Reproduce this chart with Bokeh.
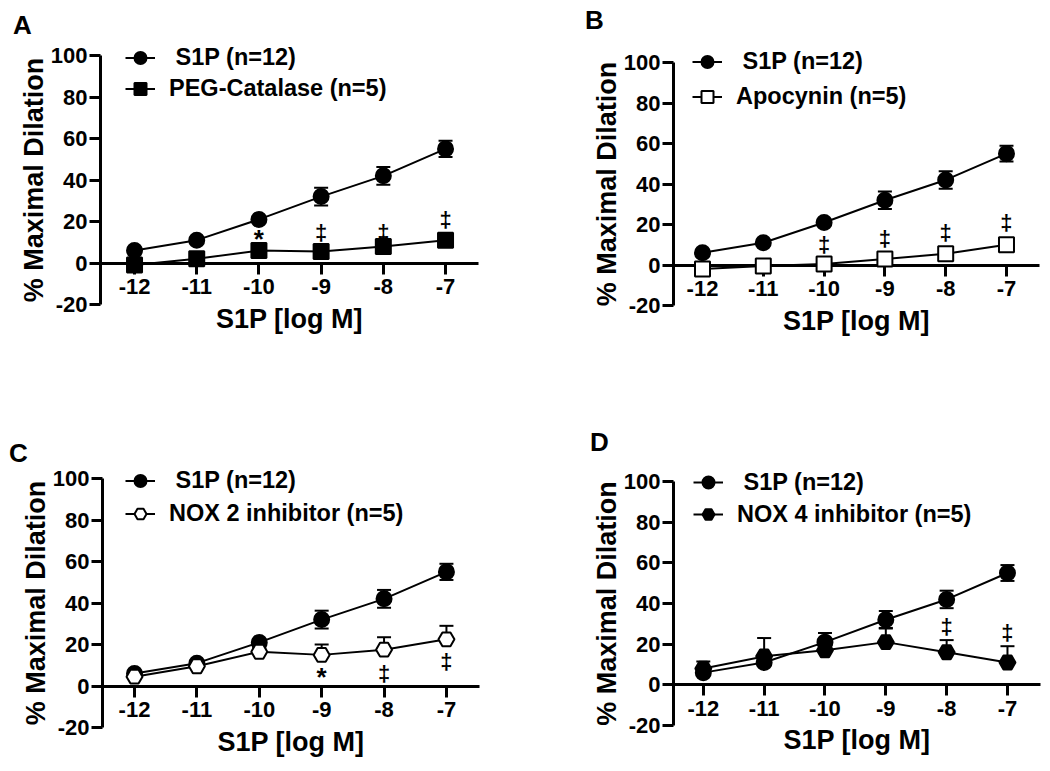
from bokeh.plotting import figure
from bokeh.models import (Range1d, FixedTicker, Whisker, TeeHead, ColumnDataSource,
                          Legend, LegendItem, Label)
from bokeh.layouts import column, row
from bokeh.embed import file_html
from bokeh.resources import INLINE
from bokeh.core.properties import value

# ---------------- data ----------------
log_conc = [-12, -11, -10, -9, -8, -7]
x_tick_labels = ["-12", "-11", "-10", "-9", "-8", "-7"]
y_ticks = [-20, 0, 20, 40, 60, 80, 100]
y_tick_labels = ["-20", "0", "20", "40", "60", "80", "100"]

s1p_label = " S1P (n=12)"
s1p_mean = [6, 11, 21, 32, 42, 55]
s1p_sem = [1.2, 1.2, 1.5, 4.3, 4.3, 3.9]

peg_label = "PEG-Catalase (n=5)"
peg_mean = [-1, 2, 6, 5.5, 8, 11]
peg_sem = [1.5, 3, 2, 2, 2, 2]

apo_label = "Apocynin (n=5)"
apo_mean = [-2, -0.5, 0.5, 3, 5.5, 10]
apo_sem = [1.5, 2, 3, 2, 2, 2.5]

nox2_label = "NOX 2 inhibitor (n=5)"
nox2_mean = [4.5, 9.5, 16.5, 15, 17.5, 22.5]
nox2_sem = [2, 2, 2, 5, 6, 6.5]

nox4_label = "NOX 4 inhibitor (n=5)"
nox4_mean = [8, 14, 17, 21, 16, 11]
nox4_sem = [3.5, 9, 8.5, 7, 6, 8]

# significance marks (x, y)
a_star_x, a_star_y = [-10], [13]
a_dag_x, a_dag_y = [-9, -8, -7], [14.5, 14.5, 21]
b_star_x, b_star_y = [], []
b_dag_x, b_dag_y = [-10, -9, -8, -7], [10, 13, 16, 21]
c_star_x, c_star_y = [-9], [6]
c_dag_x, c_dag_y = [-8, -7], [6, 11.7]
d_star_x, d_star_y = [], []
d_dag_x, d_dag_y = [-8, -7], [28.5, 25.5]

Y_MIN, Y_MAX = -20, 100
FONT = "Liberation Sans"


def style_axis(ax):
    ax.axis_line_width = 3
    ax.axis_line_color = "black"
    ax.major_tick_line_width = 3
    ax.major_tick_line_color = "black"
    ax.major_tick_out = 11
    ax.major_tick_in = 0
    ax.minor_tick_line_color = None
    ax.major_label_text_font = FONT
    ax.major_label_text_font_style = "bold"
    ax.major_label_text_font_size = "22px"
    ax.major_label_text_color = "black"
    ax.axis_label_text_font = FONT
    ax.axis_label_text_font_style = "bold"
    ax.axis_label_text_font_size = "27px"
    ax.axis_label_text_color = "black"


def add_series(p, mean, sem, marker, fill, size, both_heads):
    upper = [m + e for m, e in zip(mean, sem)]
    lower = [m - e for m, e in zip(mean, sem)] if both_heads else list(mean)
    src = ColumnDataSource(dict(x=log_conc, y=mean, upper=upper, lower=lower))
    w = Whisker(source=src, base="x", upper="upper", lower="lower", dimension="height",
                line_width=2, line_color="black",
                upper_head=TeeHead(size=14, line_width=2, line_color="black"),
                lower_head=TeeHead(size=14, line_width=2, line_color="black") if both_heads else None,
                level="annotation")
    p.add_layout(w)
    rl = p.line("x", "y", source=src, line_width=2, line_color="black", level="overlay")
    rs = p.scatter("x", "y", source=src, marker=marker, size=size, fill_color=fill,
                   line_color="black", line_width=2, level="overlay")
    return rl, rs


def make_panel(letter, w, h, left, fw, top, fh, xr, treat_mean, treat_sem, treat_label,
               marker, fill, msize, legend_xy, pitch, letter_xy,
               star_x, star_y, dag_x, dag_y, treat_both):
    # axes box (left, fw, top, fh) in figure pixels; the frame covers the whole figure
    ppx = fw / (xr[1] - xr[0])
    ppy = fh / (Y_MAX - Y_MIN)
    x_range = Range1d(xr[0] - left / ppx, xr[1] + (w - left - fw) / ppx)
    y_range = Range1d(Y_MIN - (h - top - fh) / ppy, Y_MAX + top / ppy)
    p = figure(width=w, height=h, x_range=x_range, y_range=y_range,
               output_backend="svg", toolbar_location=None,
               min_border_left=0, min_border_right=0,
               min_border_top=0, min_border_bottom=0)
    p.title.visible = False
    p.grid.visible = False
    p.outline_line_color = None
    p.background_fill_color = "white"
    p.border_fill_color = "white"

    xa = p.xaxis[0]
    ya = p.yaxis[0]
    style_axis(xa)
    style_axis(ya)
    xa.fixed_location = 0
    xa.bounds = (xr[0], xr[1])
    xa.ticker = FixedTicker(ticks=log_conc)
    xa.major_label_overrides = {t: s for t, s in zip(log_conc, x_tick_labels)}
    xa.major_label_standoff = 5
    xa.axis_label = "S1P [log M]"
    xa.axis_label_standoff = 6
    ya.fixed_location = xr[0]
    ya.bounds = (Y_MIN, Y_MAX)
    ya.ticker = FixedTicker(ticks=y_ticks)
    ya.major_label_overrides = {t: s for t, s in zip(y_ticks, y_tick_labels)}
    ya.major_label_standoff = 2
    ya.axis_label = "% Maximal Dilation"
    ya.axis_label_standoff = -1

    r1 = add_series(p, s1p_mean, s1p_sem, "circle", "black", 15, True)
    r2 = add_series(p, treat_mean, treat_sem, marker, fill, msize, treat_both)

    if dag_x:
        p.text(dag_x, dag_y, text=["‡"] * len(dag_x), text_font=value(FONT),
               text_font_style="bold", text_font_size="22px", text_align="center",
               text_baseline="middle", text_color="black", level="overlay")
    if star_x:
        p.text(star_x, star_y, text=["*"] * len(star_x), text_font=value(FONT),
               text_font_style="bold", text_font_size="26px", text_align="center",
               text_baseline="middle", y_offset=3, text_color="black", level="overlay")

    legend = Legend(items=[LegendItem(label=s1p_label, renderers=list(r1)),
                           LegendItem(label=treat_label, renderers=list(r2))],
                    location=legend_xy, orientation="vertical",
                    glyph_width=30, glyph_height=pitch, label_height=pitch,
                    spacing=0, padding=0, margin=0, label_standoff=14,
                    border_line_color=None, background_fill_alpha=0,
                    label_text_font=FONT, label_text_font_style="bold",
                    label_text_font_size="23.5px", label_text_color="black")
    p.add_layout(legend)

    p.add_layout(Label(x=letter_xy[0], y=letter_xy[1], x_units="screen", y_units="screen",
                       text=letter, text_font=FONT, text_font_style="bold",
                       text_font_size="26px", text_align="center",
                       text_baseline="alphabetic", text_color="black"))
    return p


pA = make_panel("A", 533, 388, 100, 378, 55, 249, (-12.547, -6.47),
                peg_mean, peg_sem, peg_label, "square", "black", 15,
                (125, 284), 31, (22, 364), a_star_x, a_star_y, a_dag_x, a_dag_y, True)
pB = make_panel("B", 517, 388, 140, 366, 62, 243, (-12.477, -6.457),
                apo_mean, apo_sem, apo_label, "square", "white", 15,
                (159, 274), 35, (61, 369), b_star_x, b_star_y, b_dag_x, b_dag_y, True)
pC = make_panel("C", 533, 383, 102, 377, 90, 249, (-12.513, -6.47),
                nox2_mean, nox2_sem, nox2_label, "hex", "white", 16,
                (125, 241), 33, (18, 319), c_star_x, c_star_y, c_dag_x, c_dag_y, False)
pD = make_panel("D", 517, 383, 140, 367, 93, 244, (-12.49, -6.457),
                nox4_mean, nox4_sem, nox4_label, "hex", "black", 16,
                (160, 241), 32, (66, 330), d_star_x, d_star_y, d_dag_x, d_dag_y, False)

layout = column(row(pA, pB), row(pC, pD))
open("out.html", "w").write(file_html(layout, INLINE))
